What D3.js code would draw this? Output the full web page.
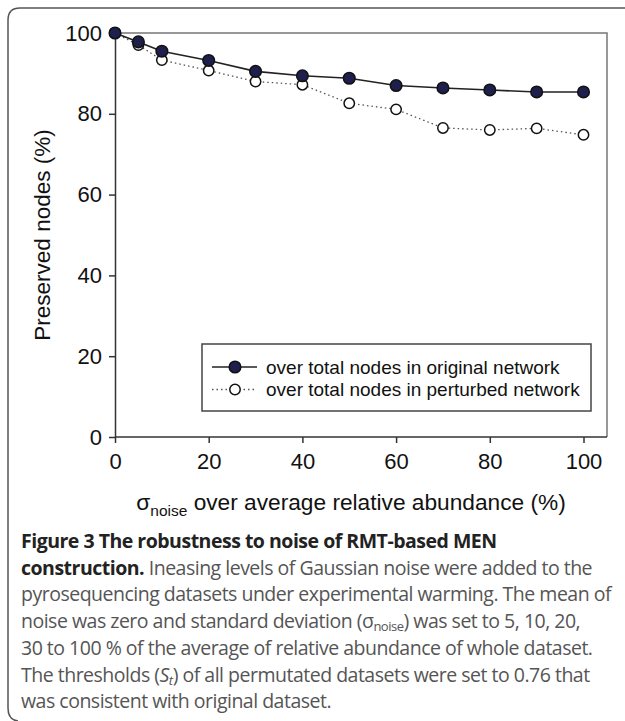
<!DOCTYPE html>
<html>
<head>
<meta charset="utf-8">
<script src="https://cdn.jsdelivr.net/npm/d3@7"></script>
<style>
  html, body { margin: 0; padding: 0; background: #fff; }
  svg { display: block; }
</style>
</head>
<body>
<svg id="chart" width="625" height="721"></svg>
<script>
// Noise level (sigma_noise over average relative abundance, %)
const noiseLevels = [0, 5, 10, 20, 30, 40, 50, 60, 70, 80, 90, 100];
// Preserved nodes (%) - over total nodes in original network
const originalPct = [100, 97.8, 95.5, 93.2, 90.5, 89.4, 88.8, 87.0, 86.4, 85.9, 85.4, 85.4];
// Preserved nodes (%) - over total nodes in perturbed network
const perturbedPct = [100, 97.0, 93.3, 90.7, 88.0, 87.2, 82.6, 81.1, 76.5, 76.0, 76.4, 74.8];

const xTicks = [0, 20, 40, 60, 80, 100];
const yTicks = [0, 20, 40, 60, 80, 100];
const legendLabels = ['over total nodes in original network', 'over total nodes in perturbed network'];

const svg = d3.select('#chart');
const FONT = 'Liberation Sans, Arial, sans-serif';
const CAP_FONT = 'Open Sans, Noto Sans, sans-serif';

// ---- Figure frame (rounded top-left corner, open on the right) ----
svg.append('path')
  .attr('d', 'M625,8 L20,8 Q8,8 8,20 L8,708 Q8,720 18,721')
  .attr('fill', 'none')
  .attr('stroke', '#555')
  .attr('stroke-width', 1.5);

// ---- Plot area ----
const plot = { left: 115, right: 607, top: 33, bottom: 437 };
const x = d3.scaleLinear().domain([0, 100]).range([plot.left, 583.5]);
const y = d3.scaleLinear().domain([0, 100]).range([plot.bottom, plot.top]);

// box: top / right in grey
svg.append('path')
  .attr('d', `M${plot.left},${plot.top} H${plot.right} V${plot.bottom}`)
  .attr('fill', 'none')
  .attr('stroke', '#777')
  .attr('stroke-width', 1.5);

const xAxis = svg.append('g')
  .attr('transform', `translate(0,${plot.bottom})`)
  .call(d3.axisBottom(x).tickValues(xTicks).tickSize(6).tickSizeOuter(0).tickPadding(10));
xAxis.select('.domain').attr('d', `M${plot.left},0 H${plot.right}`);

const yAxis = svg.append('g')
  .attr('transform', `translate(${plot.left},0)`)
  .call(d3.axisLeft(y).tickValues(yTicks).tickSize(6).tickSizeOuter(0).tickPadding(7));

[xAxis, yAxis].forEach(a => {
  a.select('.domain').attr('stroke', '#333').attr('stroke-width', 1.5);
  a.selectAll('.tick line').attr('stroke', '#333').attr('stroke-width', 1.5);
  a.selectAll('.tick text')
    .attr('font-family', FONT)
    .attr('font-size', 22)
    .attr('fill', '#111');
});
xAxis.selectAll('.tick text').attr('dy', '0.71em');

// axis titles
const xTitle = svg.append('text')
  .attr('x', 351)
  .attr('y', 510)
  .attr('text-anchor', 'middle')
  .attr('font-family', FONT)
  .attr('font-size', 22.7)
  .attr('fill', '#111');
xTitle.append('tspan').text('σ');
xTitle.append('tspan').attr('font-size', 15.5).attr('dy', 6).text('noise');
xTitle.append('tspan').attr('dy', -6).text(' over average relative abundance (%)');

svg.append('text')
  .attr('transform', `translate(50,${(plot.top + plot.bottom) / 2}) rotate(-90)`)
  .attr('text-anchor', 'middle')
  .attr('font-family', FONT)
  .attr('font-size', 22.5)
  .attr('fill', '#111')
  .text('Preserved nodes (%)');

// ---- Series ----
const series = [
  { values: originalPct,  stroke: '#222', dash: null,  fill: '#1f1f4d', r: 5.8 },
  { values: perturbedPct, stroke: '#555', dash: '1.5,3', fill: '#fff',  r: 5.2 }
];

const line = d3.line().x(d => x(d[0])).y(d => y(d[1]));

// draw perturbed first so the filled series sits on top
[series[1], series[0]].forEach(s => {
  const pts = noiseLevels.map((n, i) => [n, s.values[i]]);
  svg.append('path')
    .datum(pts)
    .attr('d', line)
    .attr('fill', 'none')
    .attr('stroke', s.stroke)
    .attr('stroke-width', s.dash ? 1.3 : 1.6)
    .attr('stroke-dasharray', s.dash);
  svg.append('g')
    .selectAll('circle')
    .data(pts)
    .join('circle')
    .attr('cx', d => x(d[0]))
    .attr('cy', d => y(d[1]))
    .attr('r', s.r)
    .attr('fill', s.fill)
    .attr('stroke', '#111')
    .attr('stroke-width', 1.5);
});

// ---- Legend ----
const legend = svg.append('g');
legend.append('rect')
  .attr('x', 202).attr('y', 344)
  .attr('width', 389).attr('height', 67)
  .attr('fill', '#fff')
  .attr('stroke', '#444')
  .attr('stroke-width', 1.5);

series.forEach((s, i) => {
  const ly = 367 + i * 22.5;
  legend.append('line')
    .attr('x1', 212).attr('x2', 257)
    .attr('y1', ly).attr('y2', ly)
    .attr('stroke', s.stroke)
    .attr('stroke-width', s.dash ? 1.3 : 1.6)
    .attr('stroke-dasharray', s.dash);
  legend.append('circle')
    .attr('cx', 235).attr('cy', ly)
    .attr('r', s.r)
    .attr('fill', s.fill)
    .attr('stroke', '#111')
    .attr('stroke-width', 1.5);
  legend.append('text')
    .attr('x', 266).attr('y', ly)
    .attr('dy', '0.35em')
    .attr('font-family', FONT)
    .attr('font-size', 19)
    .attr('fill', '#111')
    .text(legendLabels[i]);
});

// ---- Caption ----
const capLines = [
  [{ t: 'Figure 3 The robustness to noise of RMT-based MEN', b: true }],
  [{ t: 'construction.', b: true }, { t: ' Ineasing levels of Gaussian noise were added to the' }],
  [{ t: 'pyrosequencing datasets under experimental warming. The mean of' }],
  [{ t: 'noise was zero and standard deviation (σ' }, { t: 'noise', sub: true }, { t: ') was set to 5, 10, 20,' }],
  [{ t: '30 to 100 % of the average of relative abundance of whole dataset.' }],
  [{ t: 'The thresholds (' }, { t: 'S', i: true }, { t: 't', i: true, sub: true }, { t: ') of all permutated datasets were set to 0.76 that' }],
  [{ t: 'was consistent with original dataset.' }]
];

const CAP_SIZE = 19.5;
const capTexts = capLines.map((parts, li) => {
  const txt = svg.append('text')
    .attr('x', 21)
    .attr('y', 548 + li * 26.7)
    .attr('font-family', CAP_FONT)
    .attr('font-size', CAP_SIZE)
    .attr('fill', '#555');
  let shifted = 0;
  parts.forEach(p => {
    const ts = txt.append('tspan').text(p.t);
    if (p.b) ts.attr('font-weight', 'bold').attr('fill', '#222');
    if (p.i) ts.attr('font-style', 'italic');
    const want = p.sub ? 3 : 0;
    if (want !== shifted) { ts.attr('dy', want - shifted); shifted = want; }
    if (p.sub) ts.attr('font-size', 13);
  });
  return txt;
});

// the original caption face is narrower; tighten tracking so the longest line is ~590px
const ref = capTexts[2];
const w = ref.node().getComputedTextLength();
const nChars = ref.text().length;
const spacing = Math.min(0, (590 - w) / nChars);
capTexts.forEach(t => t.attr('letter-spacing', spacing));
</script>
</body>
</html>
